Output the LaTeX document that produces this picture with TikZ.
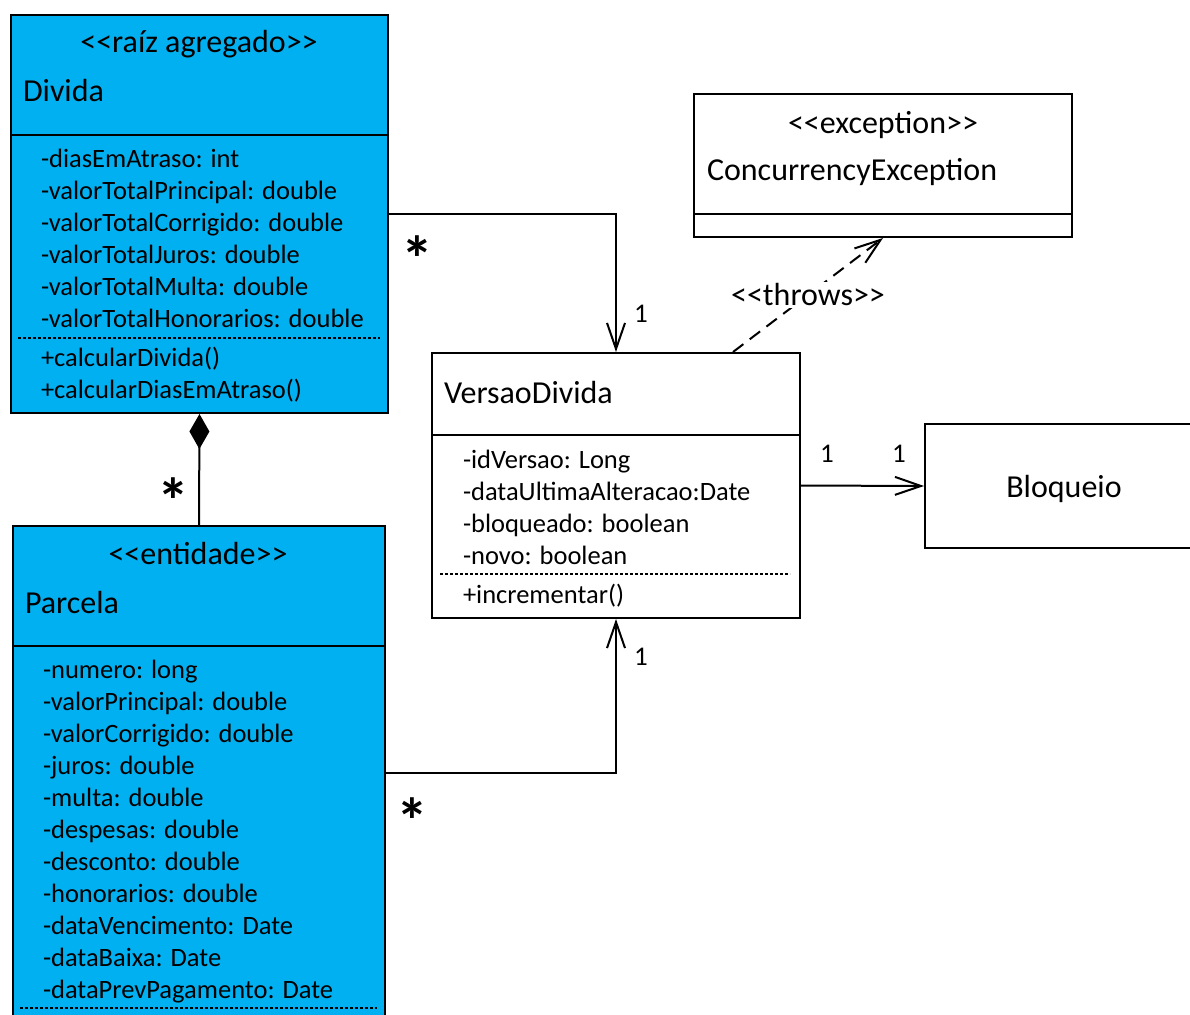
\documentclass[tikz,border=0pt]{standalone}
\usepackage{fontspec}
\setmainfont{Carlito}
\usetikzlibrary{arrows.meta,calc}
\definecolor{umlcyan}{RGB}{0,176,240}
% the kerns keep the angle brackets from merging into guillemets
\newcommand\stereo[1]{<\kern0pt<#1>\kern0pt>}
\newcommand\hdrfont{\fontsize{32}{38}\selectfont}
\newcommand\attrfont{\fontsize{26.5}{32}\selectfont}
\newcommand\multfont{\fontsize{27}{32}\selectfont}

\begin{document}
\begin{tikzpicture}[x=1pt,y=-1pt,line width=2pt,
  classbox/.style={draw,line width=2pt,anchor=north west,inner sep=0pt},
  hdr/.style={font=\hdrfont,inner sep=0pt,anchor=base west},
  stereotype/.style={font=\hdrfont,inner sep=0pt,anchor=base},
  attr/.style={font=\attrfont,inner sep=0pt,anchor=base west},
  sep/.style={line width=1.3pt,dash pattern=on 3pt off 2pt},
  assoc/.style={line width=2pt,-{Straight Barb[length=26pt,width=18pt,line width=2pt]}},
  mult/.style={font=\multfont,inner sep=0pt},
  many/.style={font=\fontsize{64}{64}\selectfont\bfseries,inner sep=0pt,anchor=base}]

\useasboundingbox (0,0) rectangle (1190,1014);

% ---------- Divida ----------
\node[classbox,fill=umlcyan,minimum width=377pt,minimum height=398pt] (divida) at (10,14) {};
\draw (10,135) -- (387,135);
\draw[sep] (18,338) -- (380,338);
\node[stereotype] (dividaSt) at (199,53) {\stereo{raíz agregado}};
\node[hdr] (dividaName) at (22,102) {Divida};
\node[attr] (d1) at (40,167) {-diasEmAtraso: int};
\node[attr] (d2) at (40,199) {-valorTotalPrincipal: double};
\node[attr] (d3) at (40,231) {-valorTotalCorrigido: double};
\node[attr] (d4) at (40,263) {-valorTotalJuros: double};
\node[attr] (d5) at (40,295) {-valorTotalMulta: double};
\node[attr] (d6) at (40,327) {-valorTotalHonorarios: double};
\node[attr] (d7) at (40,366) {+calcularDivida()};
\node[attr] (d8) at (40,398) {+calcularDiasEmAtraso()};

% ---------- Parcela ----------
\node[classbox,fill=umlcyan,minimum width=372pt,minimum height=494pt] (parcela) at (12,525) {};
\draw (12,646) -- (384,646);
\draw[sep] (20,1008) -- (377,1008);
\node[stereotype] (parcelaSt) at (198,564) {\stereo{entidade}};
\node[hdr] (parcelaName) at (24,613) {Parcela};
\node[attr] (p1) at (42,678) {-numero: long};
\node[attr] (p2) at (42,710) {-valorPrincipal: double};
\node[attr] (p3) at (42,742) {-valorCorrigido: double};
\node[attr] (p4) at (42,774) {-juros: double};
\node[attr] (p5) at (42,806) {-multa: double};
\node[attr] (p6) at (42,838) {-despesas: double};
\node[attr] (p7) at (42,870) {-desconto: double};
\node[attr] (p8) at (42,902) {-honorarios: double};
\node[attr] (p9) at (42,934) {-dataVencimento: Date};
\node[attr] (p10) at (42,966) {-dataBaixa: Date};
\node[attr] (p11) at (42,998) {-dataPrevPagamento: Date};

% ---------- VersaoDivida ----------
\node[classbox,fill=white,minimum width=368pt,minimum height=265pt] (versao) at (431,352) {};
\draw (431,435) -- (799,435);
\draw[sep] (440,574) -- (790,574);
\node[hdr] (versaoName) at (443,403) {VersaoDivida};
\node[attr] (v1) at (462,468) {-idVersao: Long};
\node[attr] (v2) at (462,500) {-dataUltimaAlteracao:Date};
\node[attr] (v3) at (462,532) {-bloqueado: boolean};
\node[attr] (v4) at (462,564) {-novo: boolean};
\node[attr] (v5) at (462,603) {+incrementar()};

% ---------- ConcurrencyException ----------
\node[classbox,fill=white,minimum width=378pt,minimum height=143pt] (exc) at (693,93) {};
\draw (693,214) -- (1071,214);
\node[stereotype] (excSt) at (883,133) {\stereo{exception}};
\node[hdr] (excName) at (706,180) {ConcurrencyException};

% ---------- Bloqueio ----------
\node[classbox,fill=white,minimum width=272pt,minimum height=124pt] (bloqueio) at (924,423) {};
\node[hdr,anchor=base] (bloqueioName) at (1064,497) {Bloqueio};

% ---------- Connectors ----------
% composition Divida <>-- Parcela
\draw[-{Diamond[length=35pt,width=20pt,fill=black]}] (parcela.north) -- (divida.south);
\node[many] (mComp) at (173,523) {*};

% Divida -> VersaoDivida
\draw[assoc] (divida.east) -| (versao.north);
\node[many] (mDiv) at (417,281) {*};
\node[mult] (mDivV) at (641,314) {1};

% Parcela -> VersaoDivida
\draw[assoc] (parcela.east) -| (versao.south);
\node[many] (mPar) at (412,843) {*};
\node[mult] (mParV) at (641,657) {1};

% VersaoDivida -> Bloqueio
\draw[assoc] (versao.east) -- (bloqueio.west);
\node[mult] (mBlA) at (827,454) {1};
\node[mult] (mBlB) at (899,454) {1};

% VersaoDivida throws ConcurrencyException
\coordinate (throwsStart) at ($(versao.north west)+(302,0)$);
\draw[assoc,dash pattern=on 13pt off 8pt] (throwsStart) -- (exc.south)
  node[pos=0.5,fill=white,inner sep=2pt,font=\hdrfont] (throwsLbl) {\stereo{throws}};

\end{tikzpicture}
\end{document}
